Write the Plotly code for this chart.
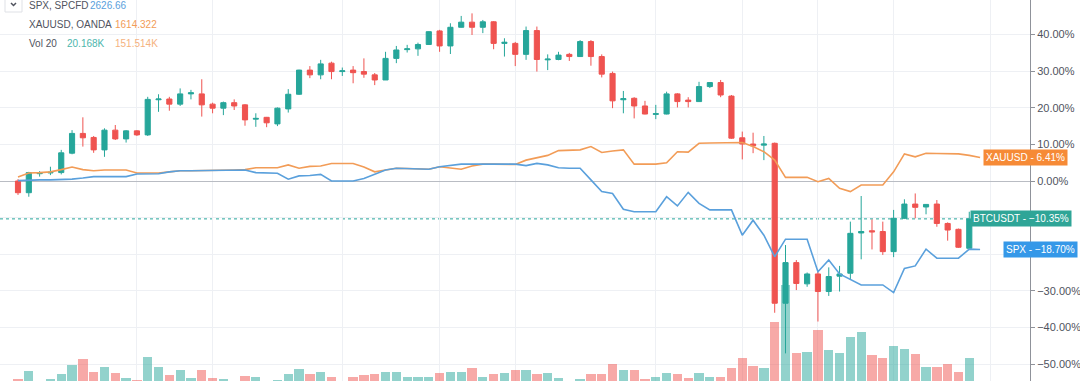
import plotly.graph_objects as go

# ---------------- data (percent change vs. first bar) ----------------
bar_index = list(range(89))
line_index = list(range(90))

btc_open = [0.0, -3.2, 2.0, 2.2, 2.3, 7.6, 13.0, 11.9, 8.5, 13.9, 11.5, 13.7, 12.6, 22.2, 22.4, 21.0,
            23.8, 23.8, 21.0, 19.9, 21.4, 20.8, 16.9, 17.4, 15.6, 19.7, 23.7, 30.3, 29.0, 32.2, 29.9, 30.3,
            29.9, 29.0, 27.6, 33.5, 35.9, 36.1, 37.3, 41.0, 36.9, 42.0, 43.4, 42.0, 43.5, 37.6, 37.6, 34.6,
            41.1, 33.1, 33.2, 34.6, 34.0, 38.1, 34.0, 29.4, 22.2, 22.6, 20.5, 18.2, 18.3, 23.8, 22.1, 21.7,
            25.8, 26.9, 23.2, 11.8, 10.1, 9.8, 10.3, -33.4, -22.3, -28.1, -25.4, -30.2, -26.0, -25.2, -14.2,
            -13.6, -13.8, -19.3, -10.2, -6.3, -7.1, -6.3, -11.6, -13.2, -18.4]
btc_high = [0.5, 2.5, 2.7, 3.9, 8.5, 13.9, 17.4, 12.3, 14.4, 15.3, 13.9, 13.9, 23.0, 23.7, 23.0, 25.3,
            24.9, 27.8, 21.4, 21.7, 22.3, 21.0, 18.5, 17.5, 20.1, 25.1, 30.4, 31.4, 33.1, 32.6, 31.0, 31.4,
            33.5, 29.5, 35.3, 36.9, 37.2, 37.8, 40.9, 41.3, 43.1, 45.1, 45.8, 44.0, 43.7, 39.0, 38.0, 42.2,
            42.2, 34.6, 35.3, 35.0, 38.5, 38.5, 34.6, 29.9, 24.6, 22.9, 21.9, 20.8, 24.4, 24.0, 22.9, 27.1,
            27.0, 27.6, 23.5, 13.5, 13.2, 12.3, 10.5, -17.5, -21.6, -25.0, -24.8, -23.6, -23.2, -11.1, -4.1,
            -10.5, -11.1, -7.9, -5.0, -3.4, -6.3, -5.2, -11.3, -13.0, -8.4]
btc_low = [-3.8, -4.3, 1.2, 1.6, 1.8, 7.3, 9.4, 7.7, 6.6, 11.2, 10.5, 12.3, 12.3, 18.9, 19.2, 20.5,
           22.3, 17.6, 18.5, 18.0, 19.4, 15.1, 14.8, 14.7, 15.0, 18.7, 23.5, 28.1, 27.8, 27.8, 28.7, 26.7,
           28.2, 26.2, 27.6, 32.2, 35.1, 34.2, 37.2, 35.3, 34.7, 41.9, 39.9, 40.4, 36.0, 34.0, 31.4, 33.1,
           29.9, 30.3, 33.0, 32.8, 33.9, 31.5, 28.3, 19.9, 18.5, 17.1, 18.2, 16.9, 18.2, 20.1, 20.1, 21.6,
           25.4, 22.9, 11.5, 5.9, 7.6, 5.7, -36.0, -47.1, -29.8, -28.9, -38.4, -31.4, -30.2, -27.0, -21.4,
           -18.7, -20.2, -20.8, -10.4, -10.2, -9.1, -12.5, -16.3, -18.3, -18.6]
btc_close = [-3.2, 2.3, 2.2, 2.4, 7.7, 13.0, 11.8, 8.5, 13.9, 11.5, 13.7, 12.6, 22.3, 22.4, 21.0, 23.8,
             24.1, 20.8, 19.9, 21.4, 20.5, 16.7, 17.1, 15.9, 19.9, 23.7, 30.3, 29.0, 32.0, 29.9, 30.1, 29.6,
             29.2, 27.6, 33.5, 35.8, 36.1, 37.3, 40.8, 36.9, 42.0, 43.4, 42.0, 43.5, 37.6, 37.9, 34.6, 41.1,
             33.2, 33.3, 34.4, 34.0, 38.1, 34.0, 29.2, 21.9, 22.5, 20.5, 18.3, 18.4, 23.8, 21.7, 21.7, 25.8,
             26.9, 23.5, 11.7, 10.1, 9.6, 10.1, -33.4, -22.3, -28.0, -25.4, -30.2, -26.1, -25.4, -14.3, -13.8,
             -13.9, -19.3, -10.2, -6.3, -7.2, -6.4, -11.6, -13.4, -18.1, -10.35]

btc_volume_k = [3.0, 9.6, 2.0, 3.4, 7.0, 14.4, 19.0, 9.0, 12.6, 7.8, 3.8, 2.4, 20.6, 13.0, 6.4, 10.4,
                3.8, 10.4, 3.8, 3.0, 1.5, 5.8, 4.6, 1.2, 2.4, 7.0, 11.2, 7.0, 8.6, 5.0, 1.2, 5.0,
                6.4, 7.0, 9.0, 9.0, 4.6, 4.6, 4.6, 8.2, 8.6, 8.6, 11.8, 5.2, 7.2, 8.2, 10.4, 10.4,
                7.2, 8.2, 4.2, 1.2, 3.4, 7.2, 7.2, 15.0, 10.4, 10.4, 3.2, 4.6, 8.2, 7.2, 3.8, 7.8,
                4.6, 5.0, 11.8, 19.8, 13.6, 12.2, 49.0, 78.4, 24.2, 24.6, 42.4, 26.4, 23.8, 36.6, 40.6,
                22.4, 20.2, 29.6, 27.0, 23.0, 13.0, 13.0, 15.0, 9.0, 20.2]

spx_pct = [0.1, 0.3, 0.3, 0.3, 0.3, 0.5, 0.8, 1.2, 1.2, 1.2, 1.2, 1.9, 1.9, 2.0, 2.5, 2.8,
           2.8, 2.8, 2.8, 2.9, 2.9, 3.0, 2.3, 2.2, 2.1, 0.5, 1.4, 1.5, 1.8, 0.0, 0.0, 0.0,
           0.7, 1.8, 3.0, 3.5, 3.4, 3.3, 3.2, 3.9, 4.2, 4.6, 4.6, 4.6, 4.6, 4.6, 4.6, 4.2,
           4.8, 4.4, 3.6, 3.5, 3.5, 0.3, -2.9, -3.4, -7.7, -8.4, -8.4, -8.4, -4.3, -6.8, -3.1, -6.1,
           -7.9, -7.9, -7.9, -14.8, -10.7, -14.8, -20.7, -15.9, -15.9, -15.9, -24.8, -21.6, -25.4, -27.0,
           -28.4, -28.4, -28.4, -30.5, -23.9, -23.2, -18.6, -21.1, -21.1, -21.1, -18.6, -18.70]
xau_pct = [1.1, 2.2, 2.3, 2.5, 3.1, 3.8, 3.1, 2.8, 3.0, 3.0, 3.0, 2.2, 2.2, 2.2, 2.5, 2.8,
           2.8, 2.8, 2.8, 2.9, 3.0, 3.1, 3.6, 3.6, 3.6, 4.4, 3.5, 4.0, 4.1, 4.8, 4.8, 4.8,
           3.8, 2.5, 3.0, 3.5, 3.4, 3.3, 3.2, 3.9, 3.6, 3.2, 4.1, 4.6, 4.6, 4.6, 4.5, 5.7,
           6.4, 7.0, 8.3, 8.5, 8.5, 9.4, 7.8, 8.2, 8.5, 4.6, 4.6, 4.6, 5.0, 8.0, 7.9, 10.3,
           10.4, 10.4, 10.4, 10.5, 9.4, 8.0, 5.7, 1.0, 1.0, 1.0, -0.2, 0.7, -2.0, -2.9,
           -1.1, -1.1, -1.1, 2.5, 7.4, 6.6, 7.6, 7.5, 7.5, 7.4, 7.0, 6.41]

price_ticks = [50, 40, 30, 20, 10, 0, -10, -20, -30, -40, -50]
hidden_tick_labels = [-10, -20]  # covered by the last-value labels in the original
time_grid_index = [11, 18, 30, 39, 46, 59, 67, 74, 81, 90]

legend_names = ["SPX, SPCFD", "XAUUSD, OANDA", "Vol 20"]
legend_values = ["2626.66", "1614.322", "20.168K", "151.514K"]

# ---------------- styling ----------------
UP = "#26a69a"
DOWN = "#ef5350"
SPX_C = "#5aa0dc"
XAU_C = "#f29c57"
TXT = "#50535e"
GRID = "#eef0f4"
FONT = "Liberation Sans"

W, H = 1080, 381
R_MARGIN = 50
PLOT_W = W - R_MARGIN
PX_PER_BAR = 10.81
FIRST_BAR_PX = 18
PX_PER_PCT = 3.66
ZERO_PX = 181

x_lo = -FIRST_BAR_PX / PX_PER_BAR
x_hi = (PLOT_W - FIRST_BAR_PX) / PX_PER_BAR
y_hi = ZERO_PX / PX_PER_PCT
y_lo = -(H - ZERO_PX) / PX_PER_PCT
VOL_PER_PX = 0.8
v_lo = 2 * VOL_PER_PX
v_hi = v_lo + H * VOL_PER_PX

vol_colors = ["rgba(38,166,154,0.5)" if c >= o else "rgba(239,83,80,0.5)"
              for o, c in zip(btc_open, btc_close)]

fig = go.Figure()

fig.add_trace(go.Bar(x=bar_index, y=btc_volume_k, marker=dict(color=vol_colors, line=dict(width=0)),
                     width=0.86, yaxis="y", xaxis="x", hoverinfo="skip"))

fig.add_trace(go.Scatter(x=line_index, y=xau_pct, mode="lines", line=dict(color=XAU_C, width=1.6),
                         yaxis="y2", hoverinfo="skip"))
fig.add_trace(go.Scatter(x=line_index, y=spx_pct, mode="lines", line=dict(color=SPX_C, width=1.6),
                         yaxis="y2", hoverinfo="skip"))

fig.add_trace(go.Candlestick(
    x=bar_index, open=btc_open, high=btc_high, low=btc_low, close=btc_close,
    increasing=dict(line=dict(color=UP, width=1), fillcolor=UP),
    decreasing=dict(line=dict(color=DOWN, width=1), fillcolor=DOWN),
    whiskerwidth=0, yaxis="y2", hoverinfo="skip"))


def txt_ann(xpx, ypx, text, color, size=10):
    return dict(xref="paper", yref="paper", x=xpx / PLOT_W, y=1 - ypx / H, xanchor="left",
                yanchor="middle", text=text, showarrow=False, borderpad=0, borderwidth=0,
                font=dict(family=FONT, size=size, color=color))


annotations = [
    txt_ann(29, 5, legend_names[0], TXT),
    txt_ann(29, 24, legend_names[1], TXT),
    txt_ann(29, 44, legend_names[2], TXT),
    txt_ann(90, 5, legend_values[0], SPX_C),
    txt_ann(115, 24, legend_values[1], XAU_C),
    txt_ann(67, 44, legend_values[2], "#4db6ac"),
    txt_ann(115, 44, legend_values[3], "#f5b27e"),
]

# cropped top axis label
annotations.append(dict(xref="paper", yref="y2", x=1 + 6 / PLOT_W, y=price_ticks[0], xanchor="left",
                        yanchor="middle", text="50.00%", showarrow=False, borderpad=0,
                        font=dict(family=FONT, size=11, color=TXT)))

# right-hand value labels
labels = [
    ("XAUUSD - %.2f%%" % xau_pct[-1], xau_pct[-1], "#f68a36", 1068),
    ("BTCUSDT - \u2212%.2f%%" % abs(btc_close[-1]), btc_close[-1], "#2fa597", 1072),
    ("SPX - \u2212%.2f%%" % abs(spx_pct[-1]), spx_pct[-1], "#3598e8", 1078),
]
for txt, val, col, right_px in labels:
    annotations.append(dict(xref="paper", yref="y2", x=right_px / PLOT_W, y=val, xanchor="right",
                            yanchor="middle", text=txt, showarrow=False, bgcolor=col,
                            borderpad=2, font=dict(family=FONT, size=10, color="white")))

shapes = [
    dict(type="line", xref="paper", x0=0, x1=1, yref="y2", y0=btc_close[-1], y1=btc_close[-1],
         line=dict(color=UP, width=1, dash="dot"), layer="below"),
    # dropdown chevron box top-left
    dict(type="rect", xref="paper", yref="paper", x0=5 / PLOT_W, x1=22 / PLOT_W, y0=1 - 12 / H, y1=1.05,
         line=dict(color="#dfe1e6", width=1), fillcolor="white"),
    dict(type="path", xref="paper", yref="paper",
         path="M %f %f L %f %f L %f %f" % (11 / PLOT_W, 1 - 3 / H, 13.5 / PLOT_W, 1 - 5.5 / H, 16 / PLOT_W, 1 - 3 / H),
         line=dict(color="#50535e", width=1.5)),
]

tick_text = ["" if t in hidden_tick_labels else ("\u2212" if t < 0 else "") + "%.2f%%" % abs(t)
             for t in price_ticks]

fig.update_layout(
    width=W, height=H,
    margin=dict(l=0, r=R_MARGIN, t=0, b=0, pad=0),
    paper_bgcolor="white", plot_bgcolor="white",
    showlegend=False,
    boxgap=0.32,
    bargap=0,
    font=dict(family=FONT, size=11, color=TXT),
    xaxis=dict(range=[x_lo, x_hi], rangeslider=dict(visible=False), showticklabels=False,
               tickmode="array", tickvals=time_grid_index, ticks="", showgrid=True, gridcolor=GRID,
               gridwidth=1, zeroline=False, showline=False, fixedrange=True, automargin=False),
    yaxis=dict(range=[v_lo, v_hi], visible=False, showgrid=False, zeroline=False, fixedrange=True,
               automargin=False),
    yaxis2=dict(range=[y_lo, y_hi], overlaying="y", side="right", anchor="x", automargin=False,
                tickmode="array", tickvals=price_ticks, ticktext=tick_text,
                showgrid=True, gridcolor=GRID, gridwidth=1,
                zeroline=True, zerolinecolor="#b9bcc3", zerolinewidth=1,
                showline=True, linecolor="#8f929a", linewidth=1,
                ticks="outside", ticklen=4, tickcolor="#8f929a",
                tickfont=dict(family=FONT, size=11, color=TXT), fixedrange=True),
    annotations=annotations,
    shapes=shapes,
)

fig.write_html("out.html", config={"displayModeBar": False},
               post_script="document.body.style.margin='0';document.body.style.padding='0';")
